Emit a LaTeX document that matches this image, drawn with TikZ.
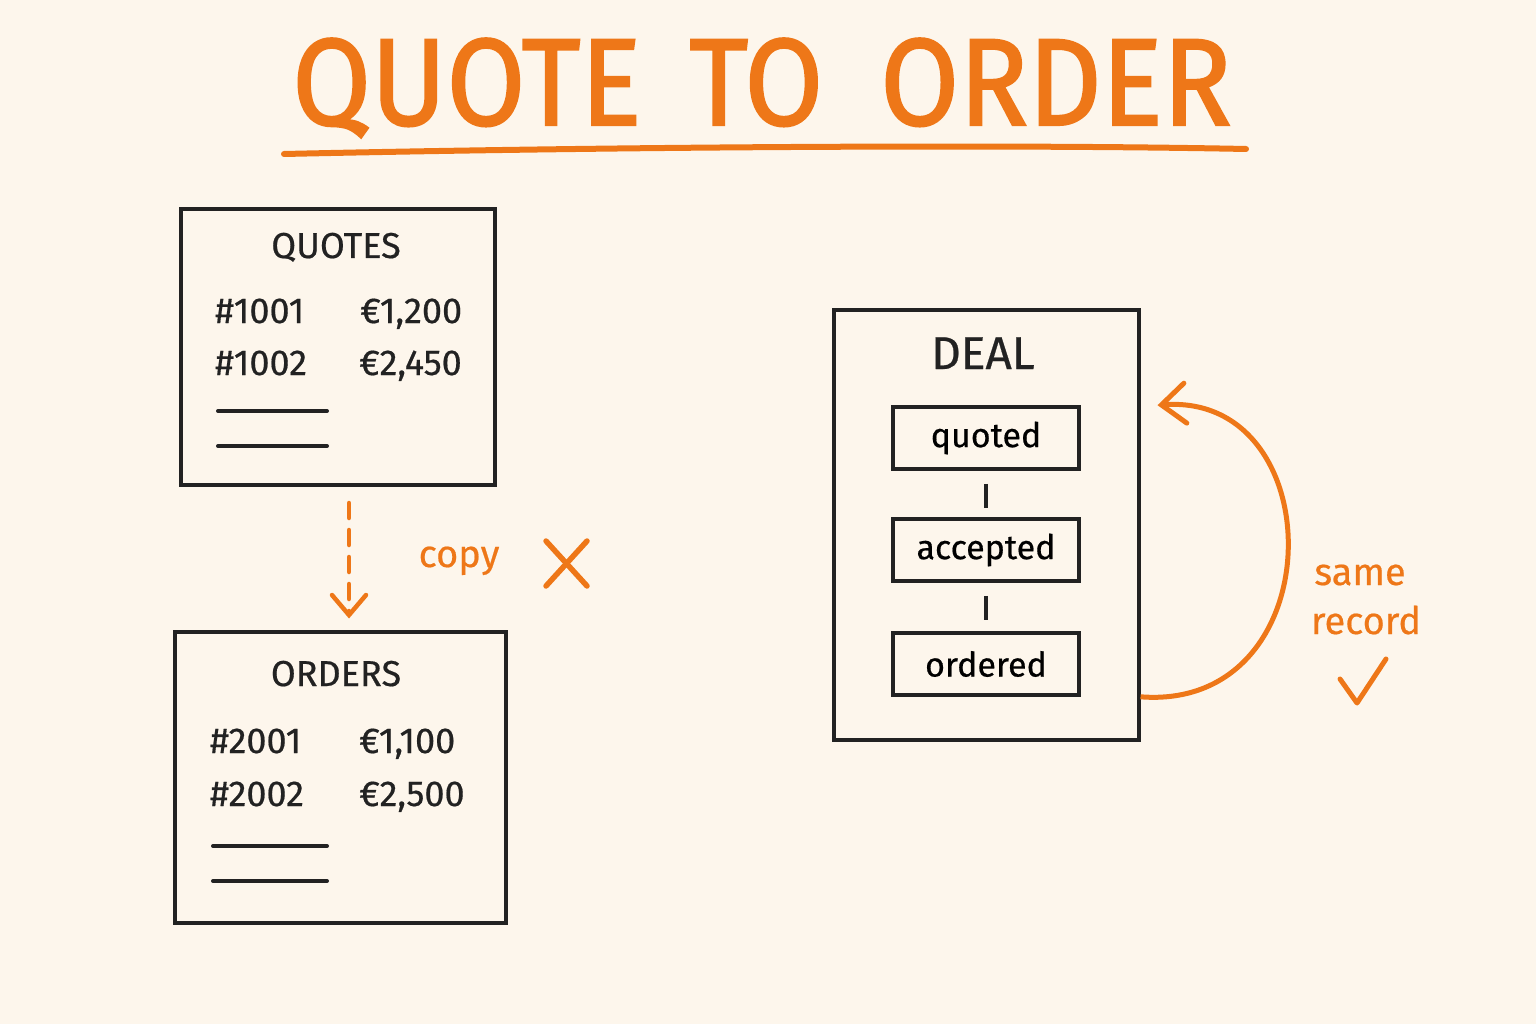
\documentclass[tikz,border=0pt]{standalone}
\usepackage{fontspec}
\setmainfont{Fira Sans}
\newfontfamily\titlefont[FakeBold=1.6]{Fira Sans}
\newfontfamily\handfont[FakeBold=0.5]{Fira Sans}
\usetikzlibrary{arrows.meta}
\definecolor{paper}{HTML}{FDF6EC}
\definecolor{pen}{HTML}{222222}
\definecolor{marker}{HTML}{EE7718}
\tikzset{
  sheet/.style={draw=pen,line width=4pt},
  ink/.style={text=pen,inner sep=0pt,font=\handfont\fontsize{36}{36}\selectfont},
  note/.style={text=marker,inner sep=0pt,font=\handfont\fontsize{38}{40}\selectfont},
  state/.style={draw=pen,line width=3.6pt,minimum width=186pt,minimum height=62pt,
    inner sep=0pt,font=\handfont\fontsize{34}{34}\selectfont},
  barb/.style={-{Straight Barb[length=20pt,width=34pt,line cap=round]}},
  bigbarb/.style={-{Straight Barb[length=24pt,width=40pt,line cap=round]}},
}
\begin{document}
\begin{tikzpicture}[x=1pt,y=-1pt]
\fill[paper] (0,0) rectangle (1536,1024);
\useasboundingbox (0,0) rectangle (1536,1024);

% title
\node[text=marker,inner sep=0pt,font=\titlefont\fontsize{124}{124}\selectfont] (title) at (762,88)
  {\scalebox{0.92}[1]{QUOTE\hspace{52pt}TO\hspace{62pt}ORDER}};
\coordinate (ulleft) at (284,154);
\coordinate (ulright) at (1246,149);
\draw[marker,line width=6pt,line cap=round] (ulleft) .. controls (600,147) and (1000,144) .. (ulright);

% two tables
\node[sheet,minimum width=314pt,minimum height=276pt] (quotes) at (338,347) {};
\node[ink,anchor=base] (qhead) at (336,258) {QUOTES};
\node[ink,anchor=base west] (q1) at (215,323) {\#1001};
\node[ink,anchor=base west] (q1v) at (360,323) {€1,200};
\node[ink,anchor=base west] (q2) at (215,375) {\#1002};
\node[ink,anchor=base west] (q2v) at (359,375) {€2,450};
\draw[pen,line width=4pt,line cap=round] (218,411) -- (327,411);
\draw[pen,line width=4pt,line cap=round] (218,446) -- (327,446);

\node[sheet,minimum width=331pt,minimum height=291pt] (orders) at (340,777) {};
\node[ink,anchor=base] (ohead) at (336,686) {ORDERS};
\node[ink,anchor=base west] (o1) at (210,753) {\#2001};
\node[ink,anchor=base west] (o1v) at (359,753) {€1,100};
\node[ink,anchor=base west] (o2) at (210,806) {\#2002};
\node[ink,anchor=base west] (o2v) at (359,806) {€2,500};
\draw[pen,line width=4pt,line cap=round] (213,846) -- (327,846);
\draw[pen,line width=4pt,line cap=round] (213,881) -- (327,881);

\draw[marker,line width=4.5pt,line cap=round,dash pattern=on 15pt off 12pt,barb,shorten <=16pt,shorten >=11pt]
  ([xshift=11pt]quotes.south) -- ([xshift=9pt]orders.north);
\node[note,anchor=base] (copy) at (459,567) {copy};
\draw[marker,line width=5.5pt,line cap=round] (546,541) -- (587,586);
\draw[marker,line width=5.5pt,line cap=round] (587,541) -- (546,586);

% one record
\node[sheet,minimum width=305pt,minimum height=430pt] (deal) at (986,525) {};
\node[ink,anchor=base,font=\handfont\fontsize{46}{46}\selectfont] (dhead) at (983,369) {DEAL};
\node[state] (quoted) at (986,438) {quoted};
\node[state] (accepted) at (986,550) {accepted};
\node[state] (ordered) at (986,664) {ordered};
\draw[pen,line width=3.6pt,shorten <=13pt,shorten >=9pt] (quoted.south) -- (accepted.north);
\draw[pen,line width=3.6pt,shorten <=13pt,shorten >=11pt] (accepted.south) -- (ordered.north);

\draw[marker,line width=5pt,bigbarb]
  (ordered.south -| deal.east) .. controls +(193,15) and +(176,-13) .. ([xshift=17pt]quoted.north -| deal.east);
\node[note,anchor=base] (same) at (1360,585) {same};
\node[note,anchor=base] (record) at (1366,634) {record};
\draw[marker,line width=5pt,line cap=round,line join=round] (1340,679) -- (1357,703) -- (1386,659);
\end{tikzpicture}
\end{document}
